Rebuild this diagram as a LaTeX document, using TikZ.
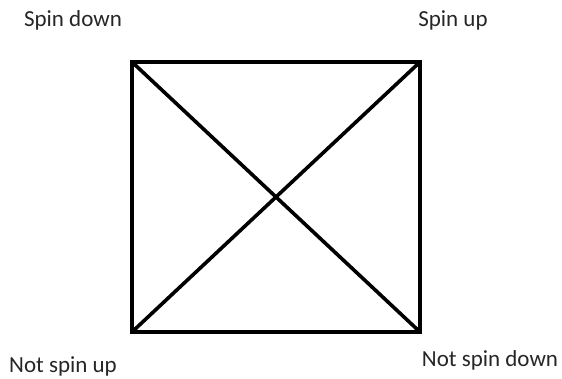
\documentclass[tikz,border=0pt]{standalone}
\usepackage{fontspec}
\setmainfont{Carlito}
\usepackage{tikz}

\begin{document}
\begin{tikzpicture}[x=1pt,y=1pt,
        spinlabel/.style={anchor=base,inner sep=0pt,text=black!85,font=\fontsize{23}{27}\selectfont}]
        \useasboundingbox (0,0) rectangle (562,379);
        % corners of the square
        \coordinate (tl) at (132,317); \coordinate (tr) at (420,317);
        \coordinate (bl) at (132,47); \coordinate (br) at (420,47);
        \draw[line width=4pt,line join=miter] (tl) -- (tr) -- (br) -- (bl) -- cycle;
        \draw[line width=3.6pt] (tl) -- (br); \draw[line width=3.6pt] (bl) -- (tr);
        % labels
        \node[spinlabel] (sdown) at (73,352) {Spin down};
        \node[spinlabel] (sup) at (453,352) {Spin up};
        \node[spinlabel] (nsup) at (63,6) {Not spin up};
        \node[spinlabel] (nsdown) at (490,12) {Not spin down};
    \end{tikzpicture}
\end{document}
